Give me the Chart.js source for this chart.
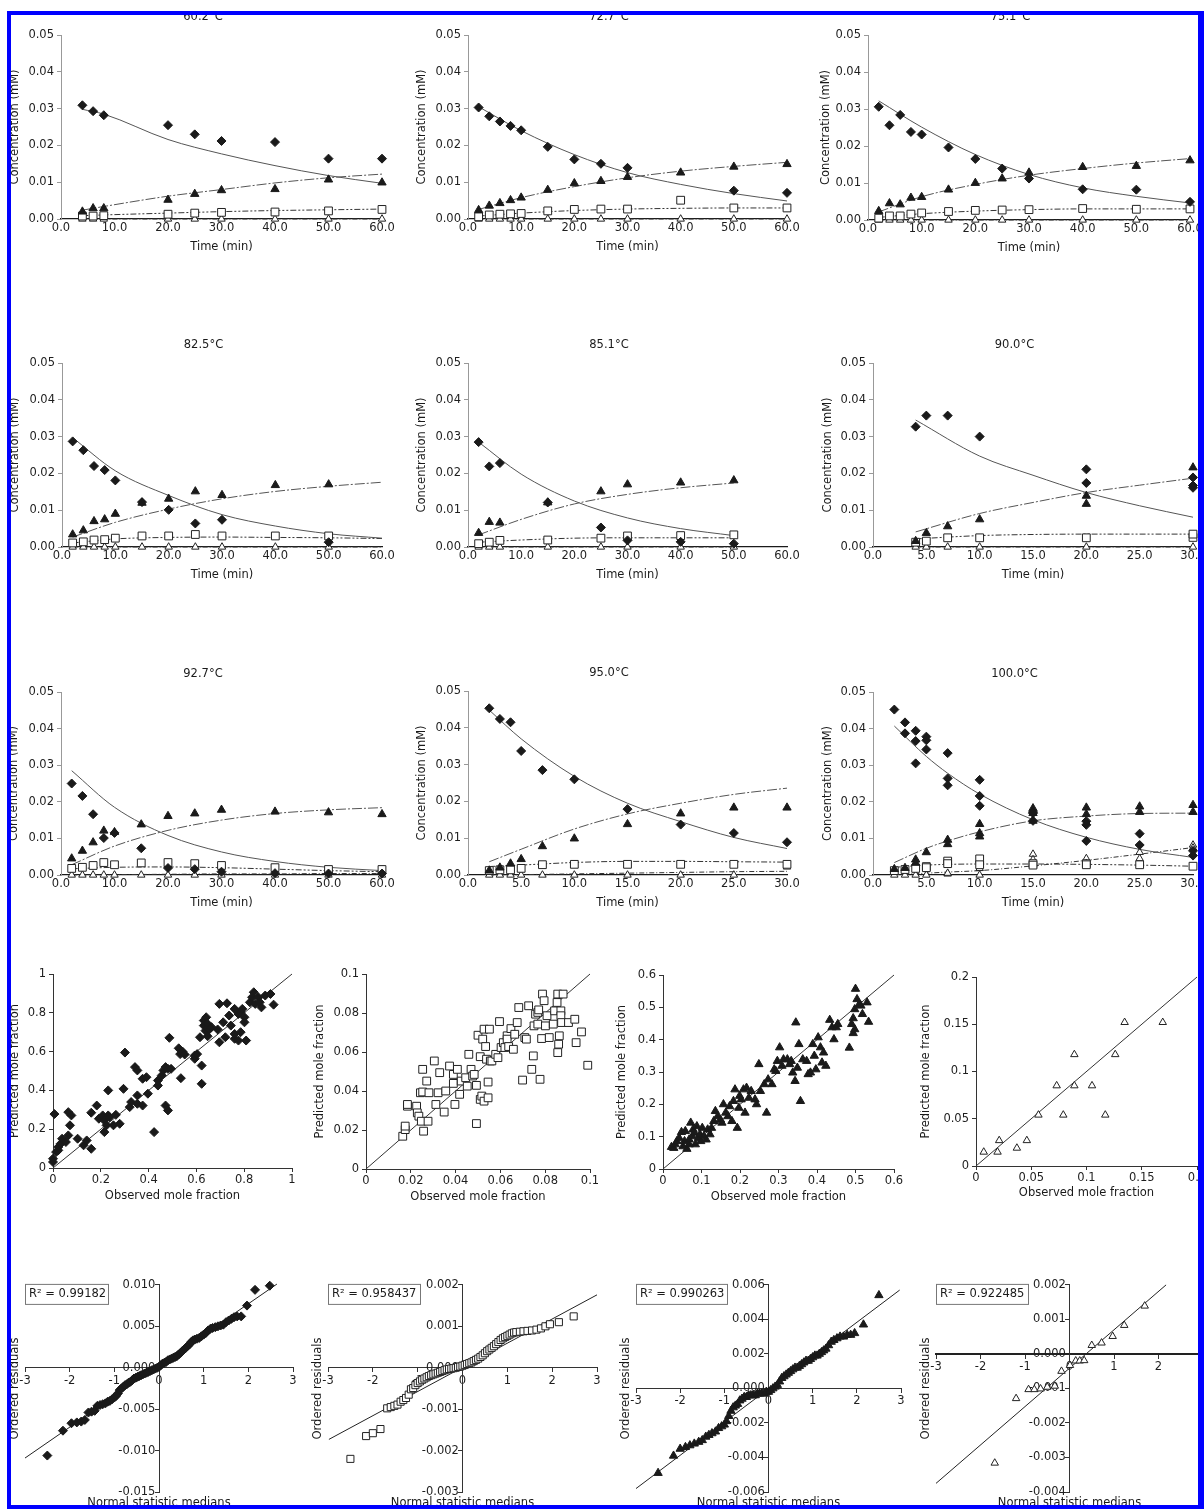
<!DOCTYPE html>
<html>
<head>
<meta charset="utf-8">
<script src="https://cdn.jsdelivr.net/npm/chart.js@4.4.1/dist/chart.umd.min.js"></script>
<style>
html,body{margin:0;padding:0;background:#fff;}
#page{position:relative;width:1204px;height:1509px;overflow:hidden;background:#fff;}
#page canvas{position:absolute;}
.bar{position:absolute;background:#0000ff;z-index:10;}
</style>
</head>
<body>
<div id="page">
<div class="bar" style="left:7px;top:11px;width:4px;height:1498px"></div>
<div class="bar" style="left:7px;top:11px;width:1197px;height:4px"></div>
<div class="bar" style="left:1198px;top:11px;width:6px;height:1498px"></div>
<div class="bar" style="left:7px;top:1505px;width:1197px;height:4px"></div>
</div>
<script>
// ---- kinetic panels: d = diamonds, a = filled triangles, s = open squares, o = open triangles, f* = model curves
const t602 = [4,6,8,20,25,30,40,50,60]
const d602 = [0.0309,0.0293,0.0282,0.0255,0.0230,0.0212,0.0209,0.0164,0.0164]
const a602 = [0.0020,0.0029,0.0029,0.0052,0.0068,0.0078,0.0081,0.0107,0.0099]
const s602 = [0.0008,0.0008,0.0009,0.0013,0.0016,0.0018,0.0019,0.0022,0.0026]
const o602 = [0,0,0,0,0,0,0,0,0]
const ft602 = [4,8,20,30,40,50,60]
const fd602 = [0.0298,0.0285,0.0216,0.0177,0.0145,0.0118,0.0097]
const fa602 = [0.0024,0.0034,0.0062,0.0080,0.0098,0.0112,0.0122]
const fs602 = [0.0009,0.0011,0.0016,0.0020,0.0023,0.0025,0.0027]
const fo602 = [0,0,0,0,0,0,0]

const t727 = [2,4,6,8,10,15,20,25,30,40,50,60]
const td727 = [2,4,6,8,10,15,20,25,30,50,60]
const d727 = [0.0303,0.0279,0.0265,0.0253,0.0241,0.0196,0.0162,0.0150,0.0139,0.0077,0.0071]
const a727 = [0.0024,0.0036,0.0043,0.0051,0.0058,0.0079,0.0097,0.0103,0.0114,0.0126,0.0142,0.0149]
const s727 = [0.0006,0.0011,0.0013,0.0014,0.0015,0.0022,0.0026,0.0027,0.0027,0.0051,0.0030,0.0030]
const o727 = [0,0,0,0,0,0,0,0,0,0,0,0]
const ft727 = [2,10,20,30,40,50,60]
const fd727 = [0.0305,0.0240,0.0175,0.0126,0.0094,0.0069,0.0049]
const fa727 = [0.0026,0.0058,0.0088,0.0112,0.0130,0.0143,0.0154]
const fs727 = [0.0008,0.0016,0.0023,0.0027,0.0029,0.0030,0.0030]
const fo727 = [0,0,0,0,0,0,0]

const t751 = [2,4,6,8,10,15,20,25,30,40,50,60]
const d751 = [0.0306,0.0256,0.0284,0.0238,0.0231,0.0196,0.0165,0.0139,0.0112,0.0083,0.0082,0.0049]
const a751 = [0.0024,0.0045,0.0042,0.0060,0.0062,0.0082,0.0100,0.0112,0.0128,0.0143,0.0146,0.0161]
const s751 = [0.0005,0.0011,0.0011,0.0016,0.0019,0.0023,0.0026,0.0027,0.0028,0.0031,0.0029,0.0030]
const o751 = [0,0,0,0,0,0,0,0,0,0,0,0]
const ft751 = [2,10,20,30,40,50,60]
const fd751 = [0.0322,0.0251,0.0177,0.0123,0.0087,0.0064,0.0046]
const fa751 = [0.0022,0.0063,0.0096,0.0121,0.0139,0.0154,0.0166]
const fs751 = [0.0007,0.0017,0.0024,0.0028,0.0030,0.0030,0.0030]
const fo751 = [0,0,0,0,0,0,0]

const t825 = [2,4,6,8,10,15,20,25,30,40,50]
const td825 = [2,4,6,8,10,15,20,25,30,50]
const d825 = [0.0287,0.0263,0.0220,0.0209,0.0181,0.0122,0.0101,0.0064,0.0074,0.0013]
const a825 = [0.0034,0.0045,0.0070,0.0075,0.0090,0.0120,0.0131,0.0151,0.0141,0.0168,0.0170]
const s825 = [0.0011,0.0014,0.0019,0.0020,0.0024,0.0030,0.0030,0.0034,0.0030,0.0030,0.0030]
const o825 = [0,0,0,0,0,0,0,0,0,0,0]
const ft825 = [2,10,20,30,40,50,60]
const fd825 = [0.0297,0.0207,0.0140,0.0088,0.0057,0.0036,0.0024]
const fa825 = [0.0027,0.0067,0.0103,0.0131,0.0151,0.0165,0.0176]
const fs825 = [0.0011,0.0022,0.0026,0.0027,0.0026,0.0025,0.0023]
const fo825 = [0,0,0,0,0,0,0]

const t851 = [2,4,6,15,25,30,40,50]
const d851 = [0.0285,0.0219,0.0228,0.0121,0.0053,0.0018,0.0014,0.0009]
const a851 = [0.0038,0.0068,0.0066,0.0121,0.0151,0.0170,0.0175,0.0181]
const s851 = [0.0009,0.0013,0.0018,0.0019,0.0024,0.0030,0.0031,0.0033]
const o851 = [0,0,0,0,0,0,0,0]
const ft851 = [2,10,20,30,40,50]
const fd851 = [0.0285,0.0198,0.0125,0.0079,0.0050,0.0031]
const fa851 = [0.0033,0.0075,0.0117,0.0143,0.0161,0.0174]
const fs851 = [0.0013,0.0019,0.0024,0.0025,0.0025,0.0025]
const fo851 = [0,0,0,0,0,0]

const td900 = [4,5,7,10,20,20,30,30,30]
const d900 = [0.0327,0.0357,0.0357,0.0300,0.0211,0.0174,0.0189,0.0167,0.0161]
const ta900 = [4,5,7,10,20,20,30]
const a900 = [0.0016,0.0038,0.0056,0.0075,0.0139,0.0117,0.0216]
const ts900 = [4,5,7,10,20,30,30]
const s900 = [0.0013,0.0016,0.0025,0.0025,0.0025,0.0026,0.0035]
const to900 = [4,5,7,10,20,30]
const o900 = [0,0,0,0,0,0]
const ft900 = [4,10,15,20,25,30]
const fd900 = [0.0345,0.0247,0.0195,0.0148,0.0112,0.0081]
const fa900 = [0.0041,0.0091,0.0121,0.0148,0.0168,0.0187]
const fs900 = [0.0022,0.0031,0.0034,0.0035,0.0035,0.0035]
const fo900 = [0,0,0,0,0,0]

const t927 = [2,4,6,8,10,15,20,25,30,40,50,60]
const d927 = [0.0250,0.0216,0.0166,0.0101,0.0115,0.0073,0.0019,0.0016,0.0009,0.0005,0.0004,0.0004]
const a927 = [0.0045,0.0066,0.0089,0.0121,0.0117,0.0138,0.0161,0.0168,0.0178,0.0173,0.0171,0.0166]
const s927 = [0.0018,0.0021,0.0026,0.0034,0.0028,0.0033,0.0034,0.0031,0.0026,0.0020,0.0015,0.0015]
const o927 = [0,0,0,0,0,0,0,0,0,0,0,0]
const ft927 = [2,10,20,30,40,50,60]
const fd927 = [0.0285,0.0185,0.0108,0.0063,0.0037,0.0021,0.0012]
const fa927 = [0.0028,0.0079,0.0122,0.0150,0.0168,0.0178,0.0184]
const fs927 = [0.0017,0.0021,0.0022,0.0020,0.0016,0.0012,0.0009]
const fo927 = [0,0.0001,0.0002,0.0003,0.0003,0.0004,0.0004]

const t950 = [2,3,4,5,7,10,15,20,25,30]
const d950 = [0.0453,0.0424,0.0415,0.0337,0.0285,0.0260,0.0179,0.0137,0.0114,0.0089]
const a950 = [0.0012,0.0020,0.0031,0.0043,0.0078,0.0099,0.0138,0.0167,0.0183,0.0183]
const s950 = [0.0012,0.0014,0.0014,0.0018,0.0028,0.0029,0.0029,0.0029,0.0029,0.0029]
const o950 = [0,0,0,0,0,0,0,0,0,0.0022]
const ft950 = [2,5,10,15,20,25,30]
const fd950 = [0.0448,0.0370,0.0268,0.0195,0.0145,0.0102,0.0072]
const fa950 = [0.0036,0.0070,0.0125,0.0166,0.0195,0.0219,0.0236]
const fs950 = [0.0023,0.0027,0.0034,0.0037,0.0037,0.0036,0.0035]
const fo950 = [0,0.0001,0.0003,0.0005,0.0007,0.0009,0.0010]

const td100 = [2,3,3,4,4,4,5,5,5,7,7,7,10,10,10,15,15,15,20,20,20,25,25,30,30]
const d100 = [0.0452,0.0417,0.0387,0.0394,0.0366,0.0305,0.0378,0.0368,0.0343,0.0333,0.0264,0.0245,0.0260,0.0216,0.0189,0.0172,0.0169,0.0148,0.0147,0.0137,0.0093,0.0113,0.0082,0.0066,0.0053]
const ta100 = [2,3,4,4,5,7,7,10,10,10,15,15,15,20,20,25,25,30,30]
const a100 = [0.0016,0.0019,0.0042,0.0033,0.0062,0.0096,0.0084,0.0139,0.0114,0.0105,0.0182,0.0169,0.0148,0.0184,0.0166,0.0187,0.0172,0.0191,0.0172]
const ts100 = [2,3,4,5,5,7,7,10,10,15,15,20,20,25,30]
const s100 = [0.0012,0.0015,0.0018,0.0023,0.0020,0.0038,0.0031,0.0044,0.0028,0.0031,0.0027,0.0031,0.0028,0.0028,0.0024]
const to100 = [2,3,4,5,7,7,10,10,15,15,20,20,25,25,30,30]
const o100 = [0,0,0,0,0.0003,0.0005,0,0.0018,0.0057,0.0042,0.0045,0.0032,0.0062,0.0045,0.0082,0.0074]
const ft100 = [2,5,7,10,15,20,25,30]
const fd100 = [0.0407,0.0324,0.0278,0.0221,0.0151,0.0103,0.0070,0.0048]
const fa100 = [0.0034,0.0073,0.0093,0.0118,0.0148,0.0161,0.0168,0.0169]
const fs100 = [0.0021,0.0027,0.0029,0.0030,0.0030,0.0029,0.0027,0.0024]
const fo100 = [0.0001,0.0005,0.0008,0.0012,0.0025,0.0040,0.0057,0.0075]

// ---- parity plots (observed vs predicted mole fraction)
const obs1 = [0,0,0.006,0.013,0.022,0.022,0.032,0.038,0.054,0.064,
0.071,0.064,0.077,0.103,0.128,0.141,0.160,0.160,0.183,0.192,
0.208,0.215,0.215,0.224,0.231,0.231,0.237,0.253,0.263,0.279,
0.295,0.301,0.321,0.327,0.343,0.353,0.353,0.353,0.375,0.375,
0.391,0.397,0.423,0.439,0.439,0.455,0.462,0.471,0.471,0.481,
0.481,0.487,0.494,0.526,0.532,0.535,0.542,0.551,0.593,0.593,
0.603,0.615,0.622,0.622,0.631,0.631,0.638,0.641,0.647,0.647,
0.654,0.663,0.689,0.696,0.696,0.712,0.721,0.728,0.737,0.744,
0.760,0.760,0.760,0.776,0.776,0.785,0.785,0.792,0.801,0.801,
0.808,0.824,0.833,0.840,0.846,0.859,0.865,0.872,0.888,0.910,0.923]
const pred1 = [0.048,0.031,0.278,0.082,0.091,0.108,0.125,0.151,0.134,0.168,
0.220,0.288,0.271,0.151,0.117,0.142,0.285,0.099,0.322,0.254,
0.271,0.185,0.245,0.220,0.400,0.271,0.262,0.220,0.274,0.228,
0.408,0.595,0.314,0.340,0.520,0.503,0.374,0.331,0.460,0.322,
0.468,0.383,0.185,0.451,0.425,0.477,0.503,0.520,0.322,0.297,
0.511,0.671,0.511,0.617,0.587,0.463,0.600,0.585,0.563,0.580,
0.587,0.674,0.434,0.528,0.734,0.760,0.708,0.777,0.743,0.679,
0.714,0.726,0.714,0.846,0.648,0.751,0.674,0.849,0.786,0.734,
0.666,0.691,0.820,0.794,0.657,0.700,0.803,0.820,0.777,0.751,
0.657,0.854,0.880,0.906,0.846,0.880,0.854,0.828,0.889,0.897,0.842]

const obs2 = [0.0164,0.0175,0.0175,0.0185,0.0185,0.0226,0.0229,0.0236,0.0243,0.0247,
0.0253,0.0253,0.0257,0.0271,0.0277,0.0281,0.0305,0.0312,0.0322,0.0329,
0.0349,0.0356,0.0373,0.0390,0.0390,0.0397,0.0408,0.0418,0.0425,0.0445,
0.0452,0.0459,0.0469,0.0476,0.0483,0.0493,0.0493,0.0500,0.0510,0.0510,
0.0517,0.0521,0.0527,0.0527,0.0534,0.0538,0.0545,0.0545,0.0551,0.0555,
0.0562,0.0579,0.0589,0.0596,0.0603,0.0613,0.0620,0.0630,0.0630,0.0637,
0.0647,0.0658,0.0664,0.0675,0.0682,0.0699,0.0709,0.0716,0.0726,0.0740,
0.0747,0.0750,0.0757,0.0767,0.0767,0.0771,0.0777,0.0784,0.0788,0.0795,
0.0801,0.0808,0.0818,0.0836,0.0842,0.0853,0.0856,0.0856,0.0860,0.0863,
0.0870,0.0870,0.0873,0.0880,0.0904,0.0932,0.0938,0.0962,0.0990]
const pred2 = [0.0168,0.0202,0.0220,0.0322,0.0331,0.0322,0.0288,0.0271,0.0391,0.0245,
0.0511,0.0395,0.0194,0.0451,0.0245,0.0391,0.0554,0.0331,0.0391,0.0494,
0.0292,0.0400,0.0528,0.0439,0.0485,0.0331,0.0511,0.0383,0.0451,0.0468,
0.0425,0.0588,0.0511,0.0477,0.0485,0.0429,0.0233,0.0686,0.0357,0.0576,
0.0374,0.0666,0.0348,0.0717,0.0628,0.0563,0.0446,0.0365,0.0717,0.0554,
0.0554,0.0588,0.0571,0.0756,0.0623,0.0648,0.0623,0.0683,0.0666,0.0628,
0.0720,0.0614,0.0691,0.0751,0.0828,0.0456,0.0674,0.0666,0.0837,0.0511,
0.0580,0.0734,0.0794,0.0743,0.0803,0.0816,0.0460,0.0669,0.0897,0.0863,
0.0734,0.0786,0.0674,0.0743,0.0811,0.0854,0.0897,0.0597,0.0640,0.0683,
0.0811,0.0786,0.0751,0.0897,0.0751,0.0768,0.0648,0.0703,0.0532]

const obs3 = [0.022,0.028,0.032,0.036,0.042,0.048,0.052,0.056,0.058,0.062,
0.068,0.068,0.072,0.076,0.078,0.082,0.084,0.088,0.092,0.096,
0.098,0.102,0.106,0.112,0.116,0.122,0.126,0.132,0.136,0.142,
0.149,0.153,0.157,0.163,0.169,0.173,0.179,0.183,0.187,0.193,
0.197,0.199,0.203,0.209,0.213,0.217,0.223,0.229,0.239,0.243,
0.249,0.253,0.263,0.269,0.273,0.283,0.289,0.293,0.297,0.303,
0.309,0.313,0.323,0.329,0.333,0.337,0.343,0.345,0.349,0.353,
0.357,0.363,0.373,0.377,0.383,0.389,0.393,0.397,0.403,0.409,
0.413,0.417,0.423,0.433,0.439,0.444,0.450,0.454,0.484,0.490,
0.494,0.494,0.498,0.498,0.500,0.504,0.510,0.514,0.518,0.530,0.534]
const pred3 = [0.068,0.065,0.076,0.086,0.096,0.114,0.070,0.086,0.117,0.062,
0.076,0.091,0.143,0.101,0.122,0.112,0.076,0.132,0.096,0.107,
0.086,0.127,0.101,0.091,0.122,0.107,0.127,0.148,0.179,0.163,
0.153,0.143,0.200,0.174,0.163,0.194,0.148,0.210,0.246,0.127,
0.189,0.226,0.215,0.246,0.174,0.251,0.220,0.241,0.215,0.200,
0.324,0.241,0.262,0.174,0.277,0.262,0.308,0.303,0.334,0.376,
0.319,0.339,0.339,0.324,0.334,0.298,0.272,0.453,0.313,0.386,
0.210,0.339,0.334,0.293,0.298,0.386,0.350,0.308,0.407,0.376,
0.329,0.360,0.319,0.461,0.438,0.401,0.438,0.448,0.375,0.448,
0.466,0.420,0.432,0.494,0.557,0.525,0.510,0.505,0.479,0.515,0.455]

const obs4 = [0.007,0.0195,0.021,0.037,0.046,0.0565,0.073,0.079,0.089,0.089,0.105,0.117,0.126,0.1345,0.169]
const pred4 = [0.0148,0.0148,0.027,0.019,0.027,0.054,0.085,0.054,0.085,0.118,0.085,0.054,0.118,0.152,0.152]

const diagX1 = [0,1], diagY1 = [0,1]
const diagX2 = [0,0.1], diagY2 = [0,0.1]
const diagX3 = [0,0.6], diagY3 = [0,0.6]
const diagX4 = [0,0.2], diagY4 = [0,0.2]

// ---- normal probability plots of residuals
const qx1 = [-2.50,-2.15,-1.96,-1.84,-1.74,-1.66,-1.58,-1.51,-1.44,-1.38,-1.32,-1.26,-1.20,-1.15,-1.10,-1.05,-1.00,-0.96,-0.92,-0.88,-0.84,-0.80,-0.76,-0.72,-0.68,-0.64,-0.60,-0.56,-0.52,-0.48,-0.44,-0.40,-0.36,-0.32,-0.28,-0.24,-0.20,-0.16,-0.12,-0.08,-0.04,0.00,0.04,0.08,0.12,0.16,0.20,0.24,0.28,0.32,0.36,0.40,0.44,0.48,0.52,0.56,0.60,0.64,0.68,0.72,0.76,0.80,0.85,0.90,0.95,1.00,1.05,1.10,1.15,1.20,1.26,1.32,1.38,1.44,1.50,1.56,1.62,1.68,1.75,1.84,1.97,2.15,2.48]
const qy1 = [-0.0106,-0.0076,-0.0067,-0.0066,-0.0065,-0.0063,-0.0054,-0.0053,-0.0052,-0.0046,-0.0045,-0.0044,-0.0043,-0.0041,-0.0040,-0.0038,-0.0036,-0.0034,-0.0031,-0.0027,-0.0025,-0.0023,-0.0021,-0.0020,-0.0018,-0.0017,-0.0015,-0.0013,-0.0012,-0.0011,-0.0010,-0.0009,-0.0008,-0.0007,-0.0006,-0.0005,-0.0004,-0.0003,-0.0002,-0.0001,0.0000,0.0001,0.0003,0.0005,0.0006,0.0007,0.0009,0.0010,0.0011,0.0012,0.0013,0.0014,0.0016,0.0018,0.0020,0.0022,0.0024,0.0026,0.0028,0.0031,0.0033,0.0034,0.0035,0.0036,0.0038,0.0040,0.0042,0.0045,0.0047,0.0048,0.0049,0.0050,0.0051,0.0052,0.0055,0.0057,0.0059,0.0061,0.0062,0.0062,0.0075,0.0094,0.0099]
const qfx1 = [-3.0,2.64], qfy1 = [-0.0109,0.0101]

const qx2 = [-2.50,-2.15,-2.00,-1.83,-1.68,-1.60,-1.52,-1.45,-1.38,-1.32,-1.26,-1.20,-1.15,-1.10,-1.05,-1.00,-0.95,-0.90,-0.85,-0.80,-0.75,-0.70,-0.65,-0.60,-0.55,-0.50,-0.45,-0.40,-0.35,-0.30,-0.25,-0.20,-0.15,-0.10,-0.05,0.00,0.05,0.10,0.15,0.20,0.25,0.30,0.35,0.40,0.45,0.50,0.55,0.60,0.65,0.70,0.75,0.80,0.85,0.90,0.95,1.00,1.05,1.10,1.15,1.20,1.28,1.36,1.45,1.55,1.65,1.75,1.85,1.95,2.15,2.48]
const qy2 = [-0.00220,-0.00165,-0.00158,-0.00148,-0.00098,-0.00095,-0.00092,-0.00089,-0.00082,-0.00078,-0.00073,-0.00065,-0.00052,-0.00049,-0.00042,-0.00037,-0.00033,-0.00029,-0.00026,-0.00023,-0.00020,-0.00018,-0.00016,-0.00014,-0.00012,-0.00010,-0.00008,-0.00006,-0.00004,-0.00003,-0.00002,-0.00001,0.00000,0.00002,0.00003,0.00005,0.00007,0.00009,0.00011,0.00013,0.00016,0.00019,0.00022,0.00026,0.00030,0.00035,0.00040,0.00044,0.00048,0.00052,0.00057,0.00062,0.00067,0.00071,0.00074,0.00077,0.00080,0.00083,0.00085,0.00086,0.00087,0.00088,0.00089,0.00090,0.00092,0.00095,0.00100,0.00105,0.00110,0.00124]
const qfx2 = [-2.98,3.0], qfy2 = [-0.00173,0.00176]

const qx3 = [-2.50,-2.15,-2.00,-1.88,-1.78,-1.68,-1.58,-1.50,-1.42,-1.35,-1.28,-1.20,-1.13,-1.06,-1.00,-0.95,-0.90,-0.85,-0.80,-0.75,-0.70,-0.65,-0.60,-0.55,-0.50,-0.45,-0.40,-0.35,-0.30,-0.25,-0.20,-0.15,-0.10,-0.05,0.00,0.05,0.10,0.15,0.20,0.25,0.30,0.35,0.40,0.45,0.50,0.55,0.60,0.65,0.70,0.75,0.80,0.85,0.90,0.95,1.00,1.05,1.10,1.15,1.20,1.25,1.30,1.36,1.42,1.48,1.55,1.62,1.70,1.78,1.86,1.95,2.15,2.50]
const qy3 = [-0.0049,-0.0039,-0.0035,-0.0034,-0.0033,-0.0032,-0.0031,-0.0030,-0.0028,-0.0027,-0.0026,-0.0025,-0.0023,-0.0022,-0.0021,-0.0019,-0.0016,-0.0013,-0.0011,-0.0010,-0.0009,-0.0007,-0.0006,-0.0005,-0.0005,-0.0004,-0.0004,-0.0004,-0.0004,-0.0003,-0.0003,-0.0003,-0.0003,-0.0002,-0.0002,-0.0001,0.0000,0.0001,0.0002,0.0004,0.0006,0.0007,0.0008,0.0009,0.0010,0.0011,0.0012,0.0012,0.0013,0.0014,0.0015,0.0016,0.0016,0.0017,0.0018,0.0019,0.0019,0.0020,0.0021,0.0022,0.0023,0.0025,0.0027,0.0028,0.0029,0.0030,0.0030,0.0031,0.0031,0.0032,0.0037,0.0054]
const qfx3 = [-3.0,2.97], qfy3 = [-0.0058,0.0057]

const qx4 = [-1.68,-1.20,-0.92,-0.79,-0.65,-0.50,-0.33,-0.18,0.01,0.14,0.23,0.33,0.50,0.72,0.97,1.23,1.69]
const qy4 = [-0.00316,-0.00129,-0.00103,-0.00103,-0.00101,-0.00096,-0.00093,-0.00050,-0.00033,-0.00020,-0.00020,-0.00019,0.00025,0.00032,0.00051,0.00083,0.00139]
const qfx4 = [-3.0,2.17], qfy4 = [-0.00375,0.0020]

// ---- drawing
Chart.defaults.font.family = '"DejaVu Sans", sans-serif'
Chart.defaults.font.size = 11.5
Chart.defaults.color = '#1e1e1e'

const INK = '#1a1a1a'

const panelText = {
  id: 'panelText',
  afterDraw(chart, args, o) {
    const {ctx, chartArea: a} = chart
    const cx = (a.left + a.right) / 2, cy = (a.top + a.bottom) / 2
    ctx.save()
    ctx.fillStyle = INK
    ctx.font = '11.5px "DejaVu Sans"'
    ctx.textAlign = 'center'
    ctx.textBaseline = 'middle'
    if (o.title) ctx.fillText(o.title, cx + o.titleDx, a.top - 17.5)
    if (o.xTitle) ctx.fillText(o.xTitle, cx, a.bottom + o.xOff)
    if (o.r2) {
      const x = a.left + o.r2dx, y = a.top - 1
      ctx.fillStyle = '#fff'
      ctx.fillRect(x, y, o.r2w, 20)
      ctx.strokeStyle = '#777'
      ctx.lineWidth = 1
      ctx.strokeRect(x + 0.5, y + 0.5, o.r2w, 20)
      ctx.fillStyle = INK
      ctx.textAlign = 'left'
      ctx.fillText(o.r2, x + 4, y + 10.5)
      ctx.textAlign = 'center'
    }
    if (o.yTitle) {
      ctx.translate(a.left - o.yOff, cy)
      ctx.rotate(-Math.PI / 2)
      ctx.fillText(o.yTitle, 0, 0)
    }
    ctx.restore()
  }
}

const pts = (xs, ys) => xs.map((x, i) => ({x: x, y: ys[i]}))

const MARK = {
  dia: {pointStyle: 'rectRot', pointRadius: 4.5, backgroundColor: INK, borderColor: INK},
  tri: {pointStyle: 'triangle', pointRadius: 4.8, backgroundColor: INK, borderColor: INK},
  sq: {pointStyle: 'rect', pointRadius: 5.5, backgroundColor: '#fff', borderColor: '#222'},
  otri: {pointStyle: 'triangle', pointRadius: 4.3, backgroundColor: '#fff', borderColor: '#222'}
}

function marks(kind, xs, ys) {
  return Object.assign({data: pts(xs, ys), borderWidth: 1, clip: false, pointHoverRadius: 0}, MARK[kind])
}

function curve(xs, ys, dash, color) {
  return {data: pts(xs, ys), showLine: true, pointRadius: 0, borderColor: color || '#555',
    borderWidth: 1, borderDash: dash, cubicInterpolationMode: 'monotone', clip: false}
}

function place(box, pad) {
  const [L, T, R, B] = box
  const c = document.createElement('canvas')
  c.width = R - L + pad.l + pad.r
  c.height = B - T + pad.t + pad.b
  c.style.left = (L - pad.l) + 'px'
  c.style.top = (T - pad.t) + 'px'
  document.getElementById('page').appendChild(c)
  return c
}

function kinetic(box, title, xMax, xStep, yOff, sets) {
  const pad = {l: 56, t: 28, r: 16, b: 38}
  const c = place(box, pad)
  new Chart(c, {
    type: 'scatter',
    data: {datasets: sets},
    options: {
      responsive: false, animation: false, events: [],
      layout: {padding: {top: pad.t, right: pad.r, left: 0, bottom: 0}},
      plugins: {legend: {display: false}, tooltip: {enabled: false},
        panelText: {title: title, titleDx: -18.5, xTitle: 'Time (min)', xOff: 28, yTitle: 'Concentration (mM)', yOff: yOff}},
      scales: {
        x: {type: 'linear', min: 0, max: xMax, afterFit: s => { s.height = pad.b },
          ticks: {stepSize: xStep, padding: 2, maxRotation: 0, autoSkip: false, callback: v => v.toFixed(1)},
          grid: {drawOnChartArea: false, drawTicks: false},
          border: {color: INK, width: 1.3}},
        y: {type: 'linear', min: 0, max: 0.05, afterFit: s => { s.width = pad.l },
          ticks: {stepSize: 0.01, padding: 3, callback: v => v.toFixed(2)},
          grid: {drawOnChartArea: false, tickLength: 4, color: '#999'},
          border: {color: '#999', width: 1}}
      }
    },
    plugins: [panelText]
  })
}

function kinSets(dX, dY, aX, aY, sX, sY, oX, oY, fX, fD, fA, fS, fO) {
  return [marks('dia', dX, dY), marks('tri', aX, aY), marks('sq', sX, sY), marks('otri', oX, oY),
    curve(fX, fD, []), curve(fX, fA, [10, 2, 2, 2]), curve(fX, fS, [6, 2, 2, 2, 2, 2], '#333'), curve(fX, fO, [5, 2, 1, 2], '#333')]
}

kinetic([61,35,382,219], '60.2°C', 60, 10, 46, kinSets(t602, d602, t602, a602, t602, s602, t602, o602, ft602, fd602, fa602, fs602, fo602))
kinetic([468,35,787,219], '72.7°C', 60, 10, 46, kinSets(td727, d727, t727, a727, t727, s727, t727, o727, ft727, fd727, fa727, fs727, fo727))
kinetic([868,35,1190,220], '75.1°C', 60, 10, 42, kinSets(t751, d751, t751, a751, t751, s751, t751, o751, ft751, fd751, fa751, fs751, fo751))
kinetic([62,363,382,547], '82.5°C', 60, 10, 47, kinSets(td825, d825, t825, a825, t825, s825, t825, o825, ft825, fd825, fa825, fs825, fo825))
kinetic([468,363,787,547], '85.1°C', 60, 10, 46, kinSets(t851, d851, t851, a851, t851, s851, t851, o851, ft851, fd851, fa851, fs851, fo851))
kinetic([873,363,1193,547], '90.0°C', 30, 5, 45, kinSets(td900, d900, ta900, a900, ts900, s900, to900, o900, ft900, fd900, fa900, fs900, fo900))
kinetic([61,692,382,875], '92.7°C', 60, 10, 47, kinSets(t927, d927, t927, a927, t927, s927, t927, o927, ft927, fd927, fa927, fs927, fo927))
kinetic([468,691,787,875], '95.0°C', 30, 5, 46, kinSets(t950, d950, t950, a950, t950, s950, t950, o950, ft950, fd950, fa950, fs950, fo950))
kinetic([873,692,1193,875], '100.0°C', 30, 5, 45, kinSets(td100, d100, ta100, a100, ts100, s100, to100, o100, ft100, fd100, fa100, fs100, fo100))

function parity(box, kind, xs, ys, dX, dY, lim, step, yOff, xOff) {
  const pad = {l: 56, t: 10, r: 14, b: 36}
  const c = place(box, pad)
  const fmt = v => String(+v.toFixed(3))
  new Chart(c, {
    type: 'scatter',
    data: {datasets: [marks(kind, xs, ys), curve(dX, dY, [], '#333')]},
    options: {
      responsive: false, animation: false, events: [],
      layout: {padding: {top: pad.t, right: pad.r, left: 0, bottom: 0}},
      plugins: {legend: {display: false}, tooltip: {enabled: false},
        panelText: {xTitle: 'Observed mole fraction', xOff: xOff, yTitle: 'Predicted mole fraction', yOff: yOff}},
      scales: {
        x: {type: 'linear', min: 0, max: lim, afterFit: s => { s.height = pad.b },
          ticks: {stepSize: step, padding: 1, maxRotation: 0, autoSkip: false, callback: fmt},
          grid: {drawOnChartArea: false, tickLength: 4, color: '#333'},
          border: {color: '#333', width: 1}},
        y: {type: 'linear', min: 0, max: lim, afterFit: s => { s.width = pad.l },
          ticks: {stepSize: step, padding: 3, callback: fmt},
          grid: {drawOnChartArea: false, tickLength: 4, color: '#333'},
          border: {color: '#333', width: 1}}
      }
    },
    plugins: [panelText]
  })
}

const MARK_P = {pointRadius: 4.2}
parity([53,974,292,1168], 'dia', obs1, pred1, diagX1, diagY1, 1, 0.2, 38, 28)
parity([366,974,590,1169], 'sq', obs2, pred2, diagX2, diagY2, 0.1, 0.02, 46, 28)
parity([663,975,894,1169], 'tri', obs3, pred3, diagX3, diagY3, 0.6, 0.1, 41, 28)
parity([976,977,1197,1166], 'otri', obs4, pred4, diagX4, diagY4, 0.2, 0.05, 50, 27)

function qq(box, kind, xs, ys, fX, fY, yMin, yMax, yStep, r2, r2w, xBorder) {
  const pad = {l: 24, t: 8, r: 14, b: 20}
  const c = place(box, pad)
  const fmtY = v => (Math.abs(v) < 1e-9 ? 0 : v).toFixed(3) + ' '
  const m = marks(kind, xs, ys)
  if (kind === 'sq') m.pointRadius = 5
  new Chart(c, {
    type: 'scatter',
    data: {datasets: [m, curve(fX, fY, [], '#222')]},
    options: {
      responsive: false, animation: false, events: [],
      layout: {padding: {top: pad.t, right: pad.r, left: pad.l, bottom: pad.b}},
      plugins: {legend: {display: false}, tooltip: {enabled: false},
        panelText: {xTitle: 'Normal statistic medians', xOff: 11, yTitle: 'Ordered residuals', yOff: 10,
          r2: r2, r2w: r2w, r2dx: 0}},
      scales: {
        x: {type: 'linear', min: -3, max: 3, position: {y: 0},
          ticks: {stepSize: 1, padding: 2, maxRotation: 0, autoSkip: false, callback: v => String(v)},
          grid: {drawOnChartArea: false, tickLength: 4, color: '#333'},
          border: {color: xBorder || '#333', width: xBorder ? 2 : 1}},
        y: {type: 'linear', min: yMin, max: yMax, position: {x: 0},
          ticks: {stepSize: yStep, padding: 3, callback: fmtY},
          grid: {drawOnChartArea: false, tickLength: 4, color: '#333'},
          border: {color: '#333', width: 1}}
      }
    },
    plugins: [panelText]
  })
}

qq([25,1283,293,1492], 'dia', qx1, qy1, qfx1, qfy1, -0.015, 0.010, 0.005, 'R² = 0.99182', 83)
qq([328,1283,597,1492], 'sq', qx2, qy2, qfx2, qfy2, -0.003, 0.002, 0.001, 'R² = 0.958437', 92)
qq([636,1283,901,1492], 'tri', qx3, qy3, qfx3, qfy3, -0.006, 0.006, 0.002, 'R² = 0.990263', 91)
qq([936,1283,1203,1492], 'otri', qx4, qy4, qfx4, qfy4, -0.004, 0.002, 0.001, 'R² = 0.922485', 92, '#222')
</script>
</body>
</html>
